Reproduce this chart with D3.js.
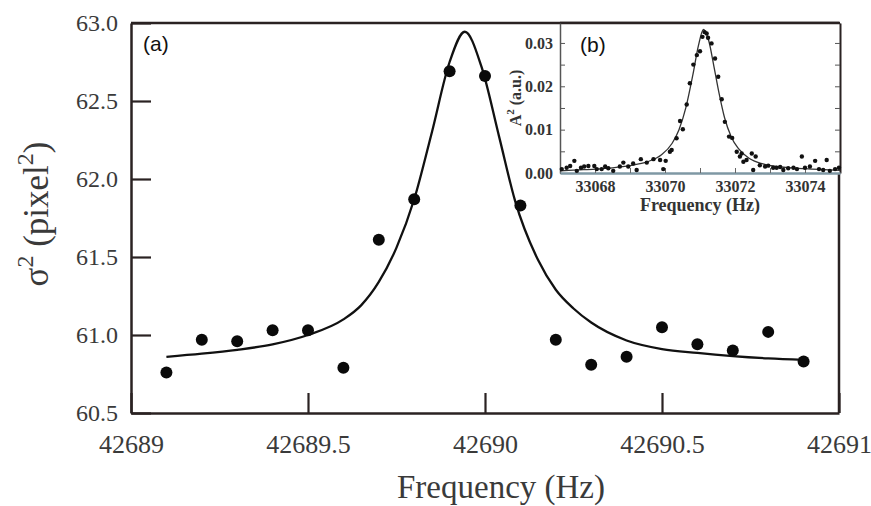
<!DOCTYPE html>
<html>
<head>
<meta charset="utf-8">
<script src="https://cdn.jsdelivr.net/npm/d3@7"></script>
<style>
  html, body { margin: 0; padding: 0; background: #fff; }
  svg { display: block; }
  .serif { font-family: "Liberation Serif", "Times New Roman", serif; }
  .sans { font-family: "Liberation Sans", Arial, sans-serif; }
</style>
</head>
<body>
<svg id="chart" width="871" height="506"></svg>
<script>
// main panel (a): measured sigma^2 vs drive frequency
const mainFreq = [42689.1, 42689.2, 42689.3, 42689.4, 42689.5, 42689.6, 42689.7, 42689.8, 42689.9, 42690.0,
  42690.1, 42690.2, 42690.3, 42690.4, 42690.5, 42690.6, 42690.7, 42690.8, 42690.9];
const mainSigma2 = [60.76, 60.97, 60.96, 61.03, 61.03, 60.79, 61.61, 61.87, 62.69, 62.66,
  61.83, 60.97, 60.81, 60.86, 61.05, 60.94, 60.90, 61.02, 60.83];

// fitted curve of panel (a)
const mainFitFreq = [42689.10, 42689.20, 42689.30, 42689.40, 42689.50, 42689.60, 42689.65, 42689.70, 42689.75,
  42689.80, 42689.85, 42689.90, 42689.943, 42689.99, 42690.04, 42690.085, 42690.15, 42690.20, 42690.25,
  42690.30, 42690.40, 42690.50, 42690.60, 42690.70, 42690.80, 42690.90];
const mainFitSigma2 = [60.86, 60.88, 60.905, 60.94, 61.00, 61.10, 61.19, 61.34, 61.56,
  61.87, 62.30, 62.75, 62.944, 62.72, 62.27, 61.86, 61.48, 61.29, 61.17,
  61.08, 60.965, 60.91, 60.885, 60.865, 60.85, 60.84];

const mainXTicks = [42689, 42689.5, 42690, 42690.5, 42691];
const mainYTicks = [60.5, 61.0, 61.5, 62.0, 62.5, 63.0];

// inset panel (b): A^2 spectrum
const insetFreq = [33067.05, 33067.19, 33067.29, 33067.41, 33067.48, 33067.60, 33067.69, 33067.81, 33067.98,
  33068.05, 33068.19, 33068.29, 33068.38, 33068.52, 33068.71, 33068.81, 33068.95, 33069.09, 33069.19,
  33069.31, 33069.48, 33069.67, 33069.86, 33069.95, 33070.02, 33070.14, 33070.19, 33070.33, 33070.43,
  33070.51, 33070.62, 33070.71, 33070.81, 33070.91, 33071.00, 33071.07, 33071.13, 33071.19, 33071.23,
  33071.33, 33071.43, 33071.52, 33071.62, 33071.71, 33071.83, 33071.92, 33072.05, 33072.14, 33072.19,
  33072.24, 33072.33, 33072.48, 33072.52, 33072.59, 33072.71, 33072.86, 33072.95, 33073.09, 33073.19,
  33073.29, 33073.38, 33073.52, 33073.67, 33073.77, 33073.91, 33074.00, 33074.14, 33074.29, 33074.40,
  33074.52, 33074.62, 33074.71, 33074.86, 33074.97];
const insetAmp = [0.0009, 0.0012, 0.0016, 0.0028, 0.0005, 0.0012, 0.0015, 0.0016, 0.0016,
  0.0009, 0.0009, 0.0015, 0.0011, 0.0005, 0.0015, 0.0024, 0.0015, 0.0022, 0.0007,
  0.0032, 0.0024, 0.0032, 0.0030, 0.0009, 0.0028, 0.0049, 0.0053, 0.0080, 0.0120,
  0.0101, 0.0158, 0.0207, 0.0250, 0.0272, 0.0281, 0.0314, 0.0325, 0.0322, 0.0312,
  0.0299, 0.0264, 0.0222, 0.0170, 0.0118, 0.0084, 0.0081, 0.0049, 0.0038, 0.0045,
  0.0026, 0.0030, 0.0045, 0.0007, 0.0038, 0.0018, 0.0015, 0.0017, 0.0012, 0.0012,
  0.0014, 0.0007, 0.0011, 0.0012, 0.0009, 0.0038, 0.0012, 0.0015, 0.0028, 0.0009,
  0.0007, 0.0030, 0.0005, 0.0009, 0.0012];

const insetFitFreq = [33067.0, 33067.5, 33068.0, 33068.5, 33069.0, 33069.5, 33069.9, 33070.2, 33070.4,
  33070.6, 33070.8, 33070.95, 33071.1, 33071.25, 33071.4, 33071.55, 33071.7, 33071.9, 33072.1,
  33072.4, 33072.8, 33073.3, 33074.0, 33075.0];
const insetFitAmp = [0.0005, 0.0007, 0.0009, 0.0012, 0.0017, 0.0026, 0.0042, 0.0068, 0.0100,
  0.0152, 0.0228, 0.0292, 0.0331, 0.0305, 0.0245, 0.0182, 0.0128, 0.0082, 0.0056,
  0.0034, 0.0021, 0.0014, 0.0010, 0.0006];

const insetXTicks = [33068, 33069, 33070, 33071, 33072, 33073, 33074];
const insetYTicks = [0, 0.005, 0.01, 0.015, 0.02, 0.025, 0.03];

const svg = d3.select("#chart");
svg.append("rect").attr("width", 871).attr("height", 506).attr("fill", "#fff");

const frame = { left: 131, right: 839, top: 23, bottom: 413 };
const axisColor = "#2a2222";
const labelColor = "#3a3a3a";

const x = d3.scaleLinear().domain([42689, 42691]).range([frame.left, frame.right]);
const y = d3.scaleLinear().domain([60.5, 63.0]).range([frame.bottom, frame.top]);

// frame: top and right border
svg.append("line").attr("x1", frame.left).attr("x2", frame.right).attr("y1", frame.top).attr("y2", frame.top)
  .attr("stroke", axisColor).attr("stroke-width", 2.5);
svg.append("line").attr("x1", frame.right).attr("x2", frame.right).attr("y1", frame.top).attr("y2", frame.bottom)
  .attr("stroke", axisColor).attr("stroke-width", 2.5);

const xAxisG = svg.append("g")
  .attr("transform", `translate(0,${frame.bottom})`)
  .call(d3.axisBottom(x).tickValues(mainXTicks).tickSizeInner(-20).tickSizeOuter(0).tickPadding(22)
    .tickFormat((d) => String(d)));

const yAxisG = svg.append("g")
  .attr("transform", `translate(${frame.left},0)`)
  .call(d3.axisLeft(y).tickValues(mainYTicks).tickSizeInner(-20).tickSizeOuter(0).tickPadding(13)
    .tickFormat(d3.format(".1f")));

[xAxisG, yAxisG].forEach((g) => {
  g.select(".domain").attr("stroke", axisColor).attr("stroke-width", 2.5);
  g.selectAll(".tick line").attr("stroke", axisColor).attr("stroke-width", 2.2);
  g.selectAll(".tick text").attr("class", "serif").attr("fill", labelColor);
});
xAxisG.selectAll(".tick text").attr("font-size", 26);
yAxisG.selectAll(".tick text").attr("font-size", 24);

// axis titles
svg.append("text").attr("class", "serif")
  .attr("x", 501).attr("y", 498).attr("text-anchor", "middle")
  .attr("font-size", 33).attr("fill", labelColor)
  .text("Frequency (Hz)");

const yTitle = svg.append("text").attr("class", "serif")
  .attr("transform", "translate(48,214) rotate(-90)")
  .attr("text-anchor", "middle").attr("font-size", 35).attr("fill", labelColor);
yTitle.append("tspan").text("σ");
yTitle.append("tspan").attr("font-size", 24).attr("dy", -15).text("2");
yTitle.append("tspan").attr("dy", 15).text(" (pixel");
yTitle.append("tspan").attr("font-size", 24).attr("dy", -15).text("2");
yTitle.append("tspan").attr("dy", 15).text(")");

// fit curve and points
const mainLine = d3.line().x((d) => x(d[0])).y((d) => y(d[1])).curve(d3.curveMonotoneX);
svg.append("path")
  .datum(d3.zip(mainFitFreq, mainFitSigma2))
  .attr("d", mainLine)
  .attr("fill", "none").attr("stroke", "#111").attr("stroke-width", 2.3);

svg.append("g").selectAll("circle")
  .data(d3.zip(mainFreq, mainSigma2))
  .join("circle")
  .attr("cx", (d) => x(d[0])).attr("cy", (d) => y(d[1])).attr("r", 6)
  .attr("fill", "#0a0a0a");

svg.append("text").attr("class", "sans")
  .attr("x", 143).attr("y", 51).attr("font-size", 21).attr("fill", "#111")
  .text("(a)");

// ---- inset (b)
const inset = { left: 560, right: 840, top: 23, bottom: 173 };
const ix = d3.scaleLinear().domain([33067, 33075]).range([inset.left, inset.right]);
const iy = d3.scaleLinear().domain([0, 0.0346]).range([inset.bottom, inset.top]);

svg.append("rect")
  .attr("x", inset.left).attr("y", inset.top)
  .attr("width", inset.right - inset.left).attr("height", inset.bottom - inset.top)
  .attr("fill", "#fff");

svg.append("line").attr("x1", inset.left).attr("x2", inset.right).attr("y1", inset.top).attr("y2", inset.top)
  .attr("stroke", axisColor).attr("stroke-width", 2.5);

const iRightG = svg.append("g")
  .attr("transform", `translate(${inset.right},0)`)
  .call(d3.axisRight(iy).tickValues(insetYTicks).tickSizeInner(-5).tickSizeOuter(0).tickFormat(""));
iRightG.select(".domain").attr("stroke", axisColor).attr("stroke-width", 2);
iRightG.selectAll(".tick line").attr("stroke", "#555").attr("stroke-width", 1);

const iLeftG = svg.append("g")
  .attr("transform", `translate(${inset.left},0)`)
  .call(d3.axisLeft(iy).tickValues(insetYTicks).tickSizeInner(-5).tickSizeOuter(0).tickPadding(7)
    .tickFormat((d) => (Math.round(d * 1000) % 10 === 0 ? d.toFixed(2) : "")));
iLeftG.select(".domain").attr("stroke", "#555").attr("stroke-width", 1.5);
iLeftG.selectAll(".tick line").attr("stroke", "#555").attr("stroke-width", 1);
iLeftG.selectAll(".tick text").attr("class", "serif").attr("font-size", 16)
  .attr("font-weight", "bold").attr("fill", "#333");

const iBottomG = svg.append("g")
  .attr("transform", `translate(0,${inset.bottom})`)
  .call(d3.axisBottom(ix).tickValues(insetXTicks).tickSizeInner(-5).tickSizeOuter(0).tickPadding(8)
    .tickFormat((d) => (d % 2 === 0 ? String(d) : "")));
iBottomG.select(".domain").attr("stroke", "#7f98a4").attr("stroke-width", 2.5);
iBottomG.selectAll(".tick line").attr("stroke", "#666").attr("stroke-width", 1);
iBottomG.selectAll(".tick text").attr("class", "serif").attr("font-size", 16)
  .attr("font-weight", "bold").attr("fill", "#333");

svg.append("text").attr("class", "serif")
  .attr("x", 700).attr("y", 211).attr("text-anchor", "middle")
  .attr("font-size", 18).attr("font-weight", "bold").attr("fill", "#333")
  .text("Frequency (Hz)");

const iTitle = svg.append("text").attr("class", "serif")
  .attr("transform", "translate(521,98) rotate(-90)")
  .attr("text-anchor", "middle").attr("font-size", 16).attr("font-weight", "bold").attr("fill", "#333");
iTitle.append("tspan").text("A");
iTitle.append("tspan").attr("font-size", 11).attr("dy", -7).text("2");
iTitle.append("tspan").attr("dy", 7).text(" (a.u.)");

const insetLine = d3.line().x((d) => ix(d[0])).y((d) => iy(d[1])).curve(d3.curveMonotoneX);
svg.append("path")
  .datum(d3.zip(insetFitFreq, insetFitAmp))
  .attr("d", insetLine)
  .attr("fill", "none").attr("stroke", "#333").attr("stroke-width", 1.3);

svg.append("g").selectAll("circle")
  .data(d3.zip(insetFreq, insetAmp))
  .join("circle")
  .attr("cx", (d) => ix(d[0])).attr("cy", (d) => iy(d[1])).attr("r", 2.2)
  .attr("fill", "#111");

svg.append("text").attr("class", "sans")
  .attr("x", 580).attr("y", 52).attr("font-size", 21).attr("fill", "#111")
  .text("(b)");
</script>
</body>
</html>
